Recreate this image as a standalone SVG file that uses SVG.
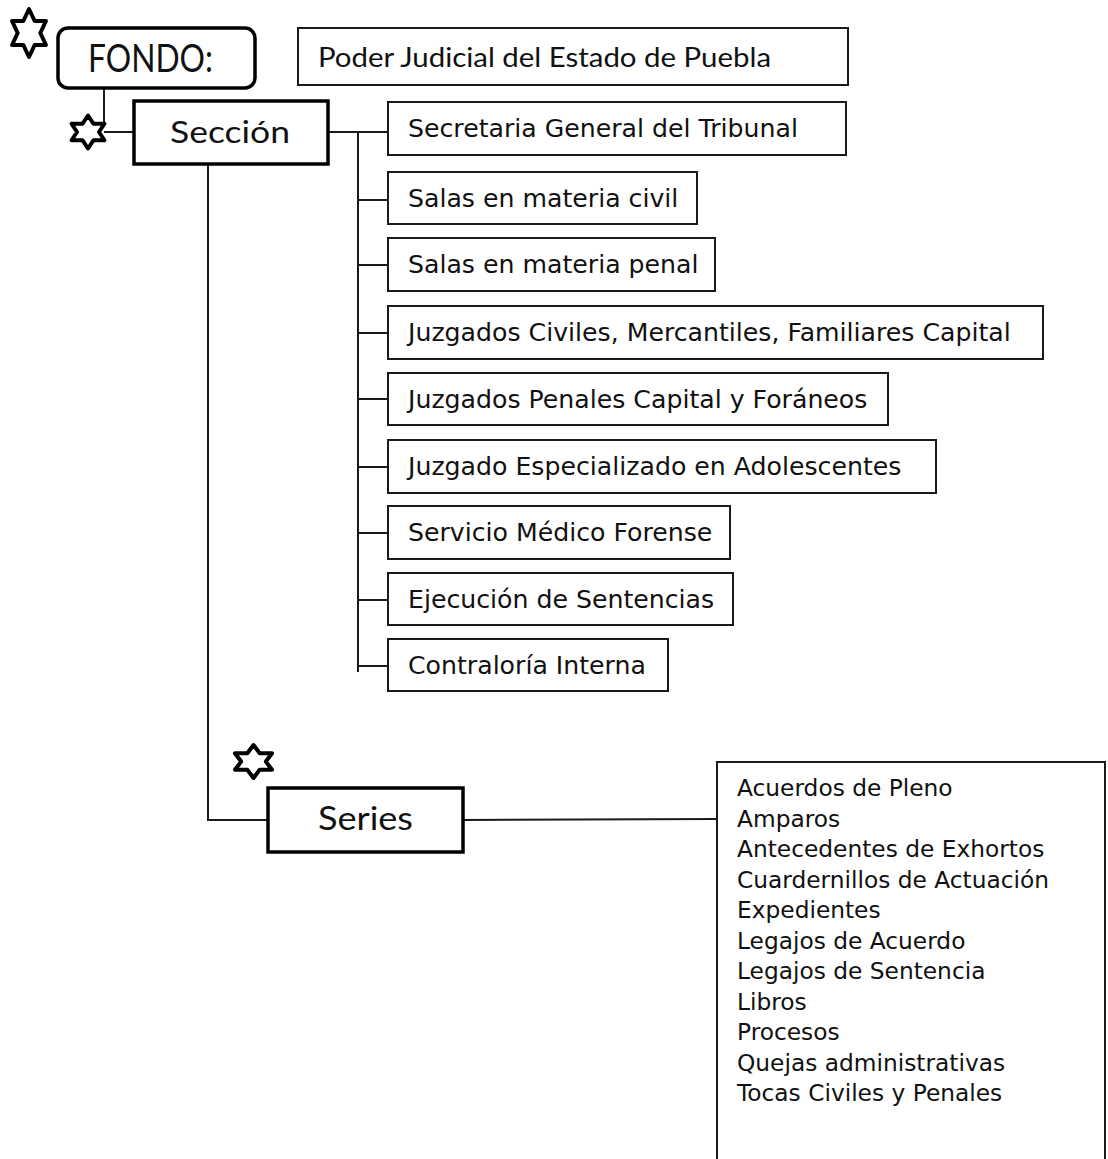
<svg xmlns="http://www.w3.org/2000/svg" width="1108" height="1159" viewBox="0 0 1108 1159">
<style>
.bg{fill:#fff}
.box{fill:#fff;stroke:#1a1a1a;stroke-width:2}
.thick{fill:#fff;stroke:#000;stroke-width:3.5}
.conn{fill:none;stroke:#1a1a1a;stroke-width:2}
.t{font-family:"DejaVu Sans",Verdana,sans-serif;font-size:25.2px;fill:#111}
.lst{font-size:23.3px}
.h{font-family:Lato,"Open Sans",sans-serif;fill:#111}
.star{fill:#fff;stroke:#000;stroke-width:4;stroke-linejoin:round}
</style>
<rect class="bg" x="0" y="0" width="1108" height="1159"/>
<g id="connectors">
<line class="conn" x1="104" y1="88" x2="104" y2="124"/>
<line class="conn" x1="104" y1="132" x2="134" y2="132"/>
<line class="conn" x1="328" y1="132" x2="388" y2="132"/>
<line class="conn" x1="358" y1="132" x2="358" y2="672"/>
<line class="conn" x1="358" y1="200" x2="388" y2="200"/>
<line class="conn" x1="358" y1="265" x2="388" y2="265"/>
<line class="conn" x1="358" y1="333" x2="388" y2="333"/>
<line class="conn" x1="358" y1="399" x2="388" y2="399"/>
<line class="conn" x1="358" y1="467" x2="388" y2="467"/>
<line class="conn" x1="358" y1="533" x2="388" y2="533"/>
<line class="conn" x1="358" y1="600" x2="388" y2="600"/>
<line class="conn" x1="358" y1="666" x2="388" y2="666"/>
<polyline class="conn" points="208,164 208,820 268,820"/>
<line class="conn" x1="463" y1="820" x2="717" y2="819"/>
</g>
<g id="star-fondo"><polygon class="star" points="29,9 34.66,21 45.97,21 40.32,33 45.97,45 34.66,45 29,57 23.34,45 12.03,45 17.68,33 12.03,21 23.34,21"/></g>
<g id="star-seccion"><polygon class="star" points="88,115.5 93.49,123.75 104.45,123.75 98.97,132 104.45,140.25 93.49,140.25 88,148.5 82.51,140.25 71.55,140.25 77.03,132 71.55,123.75 82.51,123.75"/></g>
<g id="star-series"><polygon class="star" points="253.5,745 259.68,753.25 272.03,753.25 265.86,761.5 272.03,769.75 259.68,769.75 253.5,778 247.32,769.75 234.97,769.75 241.14,761.5 234.97,753.25 247.32,753.25"/></g>
<g id="fondo">
<rect class="thick" x="58" y="28" width="197" height="60" rx="10" ry="10"/>
<text class="h" x="88" y="72" font-size="38" textLength="125" lengthAdjust="spacingAndGlyphs">FONDO:</text>
</g>
<g id="poder">
<rect class="box" x="298" y="28" width="550" height="57"/>
<text class="h" x="318" y="67" font-size="26" textLength="453" lengthAdjust="spacingAndGlyphs">Poder Judicial del Estado de Puebla</text>
</g>
<g id="seccion">
<rect class="thick" x="134" y="101" width="194" height="63"/>
<text class="h" x="170" y="143" font-size="31" textLength="120" lengthAdjust="spacingAndGlyphs">Sección</text>
</g>
<g id="n1"><rect class="box" x="388" y="102" width="458" height="53"/><text class="t" x="408" y="137">Secretaria General del Tribunal</text></g>
<g id="n2"><rect class="box" x="388" y="172" width="309" height="52"/><text class="t" x="408" y="207">Salas en materia civil</text></g>
<g id="n3"><rect class="box" x="388" y="238" width="327" height="53"/><text class="t" x="408" y="273">Salas en materia penal</text></g>
<g id="n4"><rect class="box" x="388" y="306" width="655" height="53"/><text class="t" x="408" y="341">Juzgados Civiles, Mercantiles, Familiares Capital</text></g>
<g id="n5"><rect class="box" x="388" y="373" width="500" height="52"/><text class="t" x="408" y="408">Juzgados Penales Capital y Foráneos</text></g>
<g id="n6"><rect class="box" x="388" y="440" width="548" height="53"/><text class="t" x="408" y="475">Juzgado Especializado en Adolescentes</text></g>
<g id="n7"><rect class="box" x="388" y="506" width="342" height="53"/><text class="t" x="408" y="541">Servicio Médico Forense</text></g>
<g id="n8"><rect class="box" x="388" y="573" width="345" height="52"/><text class="t" x="408" y="608">Ejecución de Sentencias</text></g>
<g id="n9"><rect class="box" x="388" y="639" width="280" height="52"/><text class="t" x="408" y="674">Contraloría Interna</text></g>
<g id="series">
<rect class="thick" x="268" y="788" width="195" height="64"/>
<text class="h" x="318" y="830" font-size="33" textLength="95" lengthAdjust="spacingAndGlyphs">Series</text>
</g>
<g id="series-list">
<rect class="box" x="717" y="762" width="388" height="420"/>
<text class="t lst">
<tspan x="737" y="796">Acuerdos de Pleno</tspan>
<tspan x="737" y="826.5">Amparos</tspan>
<tspan x="737" y="857">Antecedentes de Exhortos</tspan>
<tspan x="737" y="887.5">Cuardernillos de Actuación</tspan>
<tspan x="737" y="918">Expedientes</tspan>
<tspan x="737" y="948.5">Legajos de Acuerdo</tspan>
<tspan x="737" y="979">Legajos de Sentencia</tspan>
<tspan x="737" y="1009.5">Libros</tspan>
<tspan x="737" y="1040">Procesos</tspan>
<tspan x="737" y="1070.5">Quejas administrativas</tspan>
<tspan x="737" y="1101">Tocas Civiles y Penales</tspan>
</text>
</g>
</svg>
